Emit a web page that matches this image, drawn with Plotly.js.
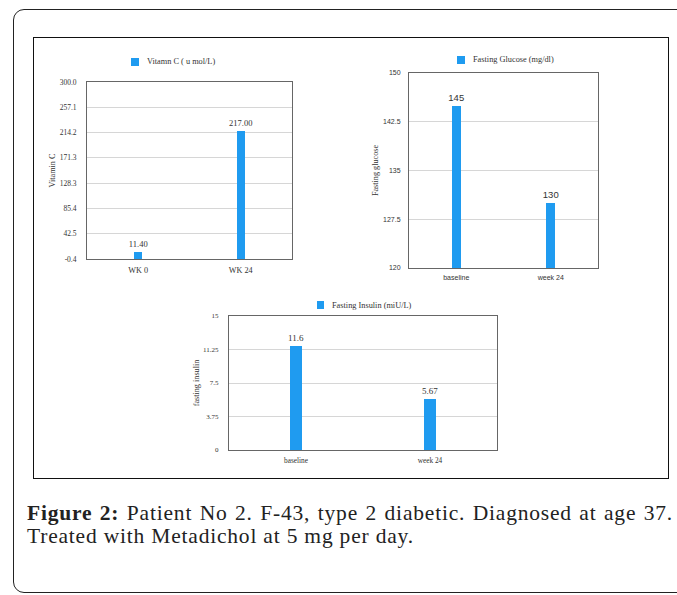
<!DOCTYPE html>
<html>
<head>
<meta charset="utf-8">
<script src="https://cdn.plot.ly/plotly-3.0.1.min.js"></script>
<style>
  html, body { margin:0; padding:0; background:#fff; width:677px; height:595px; overflow:hidden; }
  #outer { position:absolute; left:13px; top:9px; width:720px; height:582px; border:1.5px solid #222; border-radius:11px; }
  #inner { position:absolute; left:33px; top:37px; width:634px; height:440px; border:1.5px solid #111; }
  #chart { position:absolute; left:0; top:0; width:677px; height:595px; }
  .cap { position:absolute; left:27px; width:646px; font-family:"Liberation Serif", serif; font-size:21.5px; letter-spacing:0.8px; color:#222; white-space:nowrap; line-height:25px; }
  #cap1 { top:501px; text-align:justify; text-align-last:justify; }
  #cap2 { top:524px; }
</style>
</head>
<body>
<div id="outer"></div>
<div id="inner"></div>
<div class="cap" id="cap1"><b>Figure 2:</b> Patient No 2. F-43, type 2 diabetic. Diagnosed at age 37.</div>
<div class="cap" id="cap2">Treated with Metadichol at 5 mg per day.</div>
<div id="chart"></div>
<script>
// ---- data ----
const vitCCategories = ["WK 0", "WK 24"];
const vitCValues = [11.40, 217.00];
const vitCTickVals = [-0.4, 42.5, 85.4, 128.3, 171.3, 214.2, 257.1, 300.0];
const vitCTickText = ["-0.4", "42.5", "85.4", "128.3", "171.3", "214.2", "257.1", "300.0"];

const glucoseCategories = ["baseline", "week 24"];
const glucoseValues = [145, 130];
const glucoseTickVals = [120, 127.5, 135, 142.5, 150];

const insulinCategories = ["baseline", "week 24"];
const insulinValues = [11.6, 5.67];
const insulinTickVals = [0, 3.75, 7.5, 11.25, 15];

const seriesNames = ["Vitamn C ( u mol/L)", "Fasting Glucose (mg/dl)", "Fasting Insulin (miU/L)"];

// ---- layout helpers ----
const W = 677, H = 595;
const dx = (a, b) => [a / W, b / W];
const dy = (top, bottom) => [1 - bottom / H, 1 - top / H];

const BLUE = "#1f9bf0";
const SERIF = "Liberation Serif, serif";
const SANS = "Liberation Sans, Arial, sans-serif";

const traces = [
  {
    type: "bar", x: vitCCategories, y: vitCValues, name: seriesNames[0],
    xaxis: "x", yaxis: "y",
    marker: { color: BLUE }, width: 0.08,
    text: vitCValues.map(v => v.toFixed(2)), textposition: "outside", cliponaxis: false, constraintext: "none",
    textfont: { family: SERIF, size: 8.5, color: "#333" }
  },
  {
    type: "bar", x: glucoseCategories, y: glucoseValues, name: seriesNames[1],
    xaxis: "x2", yaxis: "y2",
    marker: { color: BLUE }, width: 0.095,
    text: glucoseValues.map(String), textposition: "outside", cliponaxis: false, constraintext: "none",
    textfont: { family: SANS, size: 9.5, color: "#333" }
  },
  {
    type: "bar", x: insulinCategories, y: insulinValues, name: seriesNames[2],
    xaxis: "x3", yaxis: "y3",
    marker: { color: BLUE }, width: 0.09,
    text: insulinValues.map(String), textposition: "outside", cliponaxis: false, constraintext: "none",
    textfont: { family: SERIF, size: 9, color: "#333" }
  }
];

const frameAxis = { showline: true, mirror: true, linecolor: "#666", linewidth: 1, zeroline: false, fixedrange: true };

// legend swatches + labels (one per chart)
const legendPos = [
  { sq: [131, 139], cy: 62, tx: 145 },
  { sq: [457, 465], cy: 60, tx: 471 },
  { sq: [317, 324], cy: 305, tx: 330 }
];
const shapes = legendPos.map(p => ({
  type: "rect", xref: "paper", yref: "paper",
  x0: p.sq[0] / W, x1: p.sq[1] / W, y0: 1 - (p.cy + 4) / H, y1: 1 - (p.cy - 4) / H,
  fillcolor: BLUE, line: { width: 0 }
}));
const annotations = legendPos.map((p, i) => ({
  xref: "paper", yref: "paper", x: p.tx / W, y: 1 - p.cy / H,
  xanchor: "left", yanchor: "middle", showarrow: false,
  text: seriesNames[i], font: { family: SERIF, size: 8.3, color: "#333" }
}));

const layout = {
  width: W, height: H,
  margin: { l: 0, r: 0, t: 0, b: 0 },
  paper_bgcolor: "rgba(0,0,0,0)",
  plot_bgcolor: "rgba(0,0,0,0)",
  showlegend: false,
  bargap: 0,
  shapes: shapes,
  annotations: annotations,
  xaxis: Object.assign({}, frameAxis, {
    domain: dx(87, 292), anchor: "y", showgrid: false,
    tickfont: { family: SERIF, size: 8.2, color: "#333" }, ticks: "", ticklabelstandoff: 3
  }),
  yaxis: Object.assign({}, frameAxis, {
    domain: dy(82, 259), anchor: "x", range: [-0.4, 300],
    tickmode: "array", tickvals: vitCTickVals, ticktext: vitCTickText,
    showgrid: true, gridcolor: "#d6d6d6",
    tickfont: { family: SERIF, size: 7.5, color: "#333" }, ticks: "", ticklabelstandoff: 8,
    title: { text: "Vitamin C", font: { family: SERIF, size: 8.2, color: "#333" }, standoff: 2 }
  }),
  xaxis2: Object.assign({}, frameAxis, {
    domain: dx(409, 598), anchor: "y2", showgrid: false,
    tickfont: { family: SANS, size: 7, color: "#333" }, ticks: "", ticklabelstandoff: 3
  }),
  yaxis2: Object.assign({}, frameAxis, {
    domain: dy(73, 268), anchor: "x2", range: [120, 150],
    tickmode: "array", tickvals: glucoseTickVals,
    showgrid: true, gridcolor: "#d6d6d6",
    tickfont: { family: SANS, size: 7, color: "#333" }, ticks: "", ticklabelstandoff: 6,
    title: { text: "Fasting glucose", font: { family: SERIF, size: 8.2, color: "#333" }, standoff: 3 }
  }),
  xaxis3: Object.assign({}, frameAxis, {
    domain: dx(229, 497), anchor: "y3", showgrid: false,
    tickfont: { family: SERIF, size: 7.3, color: "#333" }, ticks: "", ticklabelstandoff: 3
  }),
  yaxis3: Object.assign({}, frameAxis, {
    domain: dy(316, 450), anchor: "x3", range: [0, 15],
    tickmode: "array", tickvals: insulinTickVals,
    showgrid: true, gridcolor: "#d6d6d6",
    tickfont: { family: SERIF, size: 7, color: "#333" }, ticks: "", ticklabelstandoff: 8,
    title: { text: "fasting insulin", font: { family: SERIF, size: 8.2, color: "#333" }, standoff: 2 }
  })
};

Plotly.newPlot("chart", traces, layout, { staticPlot: true, displayModeBar: false });
</script>
</body>
</html>
